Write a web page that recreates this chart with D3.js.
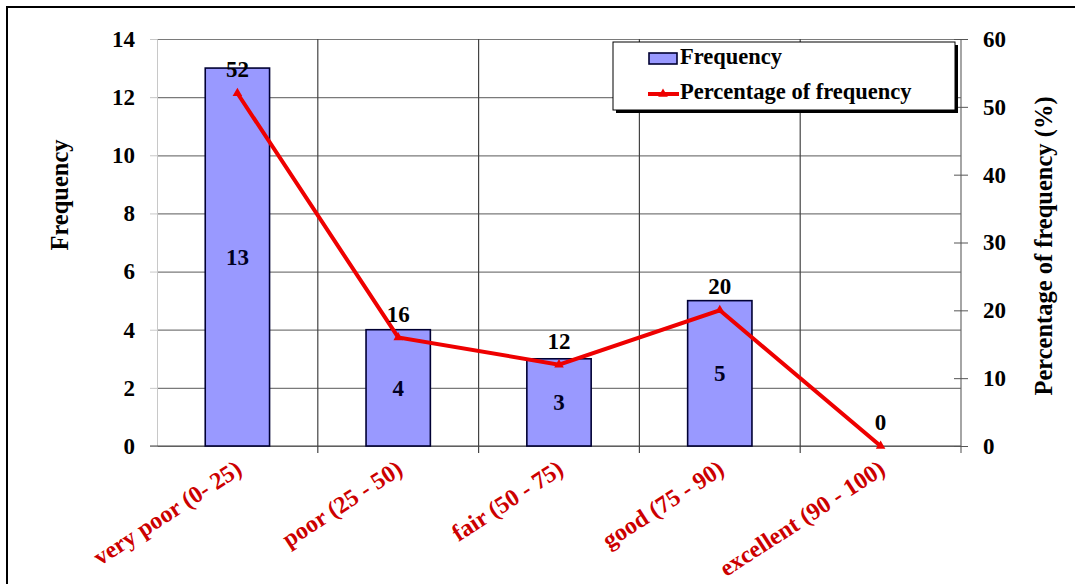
<!DOCTYPE html>
<html>
<head>
<meta charset="utf-8">
<script src="https://cdn.jsdelivr.net/npm/d3@7"></script>
<style>
  html, body { margin: 0; padding: 0; background: #fff; }
  svg { display: block; font-family: "Liberation Serif", "Times New Roman", serif; font-weight: bold; }
</style>
</head>
<body>
<svg id="chart" width="1075" height="584"></svg>
<script>
// Score classes and their counts
const categories = ["very poor (0- 25)", "poor (25 - 50)", "fair (50 - 75)", "good (75 - 90)", "excellent (90 - 100)"];
const frequency = [13, 4, 3, 5, 0];
const percentage = [52, 16, 12, 20, 0];
const freqTicks = [0, 2, 4, 6, 8, 10, 12, 14];
const pctTicks = [0, 10, 20, 30, 40, 50, 60];

const svg = d3.select("#chart");
const W = 1075, H = 584;
const plotL = 157, plotR = 961, plotT = 39, plotB = 446;
const FONT = "Liberation Serif";

// Outer frame (runs off the right and bottom edges)
svg.append("path")
  .attr("d", `M7,${H + 5} L7,7 L${W + 5},7`)
  .attr("fill", "none").attr("stroke", "#000").attr("stroke-width", 2);

const x = d3.scaleBand().domain(categories).range([plotL, plotR]).padding(0);
const yL = d3.scaleLinear().domain([0, 14]).range([plotB, plotT]);
const yR = d3.scaleLinear().domain([0, 60]).range([plotB, plotT]);

// Horizontal gridlines
svg.append("g")
  .attr("transform", `translate(${plotL},0)`)
  .call(d3.axisLeft(yL).tickValues(freqTicks).tickSize(-(plotR - plotL)).tickFormat(""))
  .call(g => g.select(".domain").remove())
  .call(g => g.selectAll("line").attr("stroke", "#7a7a7a").attr("stroke-width", 1.2));

// Vertical gridlines at category boundaries, with ticks below the baseline
const bounds = categories.slice(1).map(c => x(c));
svg.append("g").selectAll("line").data(bounds).join("line")
  .attr("x1", d => d).attr("x2", d => d)
  .attr("y1", plotT).attr("y2", plotB + 7)
  .attr("stroke", "#444").attr("stroke-width", 1.2);

// Left axis
svg.append("g")
  .attr("transform", `translate(${plotL},0)`)
  .call(d3.axisLeft(yL).tickValues(freqTicks).tickSize(7).tickPadding(15))
  .call(g => g.select(".domain").attr("stroke", "#c8c8c8"))
  .call(g => g.selectAll(".tick line").attr("stroke", "#c8c8c8"))
  .call(g => g.selectAll("text").attr("font-size", 23).attr("font-family", FONT).attr("font-weight", "bold").attr("fill", "#000"));

// Baseline
svg.append("line")
  .attr("x1", plotL - 7).attr("x2", plotR)
  .attr("y1", plotB).attr("y2", plotB)
  .attr("stroke", "#444").attr("stroke-width", 1.2);

// Right axis with crossing ticks
svg.append("g")
  .attr("transform", `translate(${plotR},0)`)
  .call(d3.axisRight(yR).tickValues(pctTicks).tickSize(7).tickPadding(15))
  .call(g => g.select(".domain").attr("stroke", "#6a6a6a").attr("stroke-width", 1.2).attr("d", `M0,${plotT}V${plotB + 7}`))
  .call(g => g.selectAll(".tick line").attr("x1", -7).attr("stroke", "#555"))
  .call(g => g.selectAll("text").attr("font-size", 23).attr("font-family", FONT).attr("font-weight", "bold").attr("fill", "#000"));

// Category labels
svg.append("g")
  .attr("transform", `translate(0,${plotB})`)
  .call(d3.axisBottom(x).tickSize(0))
  .call(g => g.select(".domain").remove())
  .call(g => g.selectAll("text")
    .attr("x", 0).attr("y", 0).attr("dy", 0)
    .attr("text-anchor", "end")
    .attr("transform", "translate(6,27) rotate(-33)")
    .attr("font-size", 24).attr("font-family", FONT).attr("font-weight", "bold")
    .attr("fill", "#cc0000"));

// Axis titles
svg.append("text")
  .attr("transform", "translate(68,195) rotate(-90)")
  .attr("text-anchor", "middle").attr("font-size", 24.5).text("Frequency");
svg.append("text")
  .attr("transform", "translate(1052,246) rotate(-90)")
  .attr("text-anchor", "middle").attr("font-size", 24.5).text("Percentage of frequency (%)");

// Bars
const cx = c => x(c) + x.bandwidth() / 2;
const bw = x.bandwidth() * 0.4;
const rows = categories.map((c, i) => ({ c, f: frequency[i], p: percentage[i] }));

svg.append("g").selectAll("rect").data(rows.filter(d => d.f > 0)).join("rect")
  .attr("x", d => cx(d.c) - bw / 2)
  .attr("y", d => yL(d.f))
  .attr("width", bw)
  .attr("height", d => yL(0) - yL(d.f))
  .attr("fill", "#9999ff").attr("stroke", "#000033").attr("stroke-width", 1.6);

// Count labels inside bars
svg.append("g").selectAll("text").data(rows.filter(d => d.f > 0)).join("text")
  .attr("x", d => cx(d.c))
  .attr("y", d => yL(d.f / 2))
  .attr("dy", "0.35em")
  .attr("text-anchor", "middle").attr("font-size", 23).attr("fill", "#000022")
  .text(d => d.f);

// Percentage line
const line = d3.line().x(d => cx(d.c)).y(d => yR(d.p));
svg.append("path").datum(rows)
  .attr("d", line)
  .attr("fill", "none").attr("stroke", "#ee0000").attr("stroke-width", 4).attr("stroke-linejoin", "miter");

const tri = d3.symbol().type(d3.symbolTriangle).size(40);
svg.append("g").selectAll("path").data(rows).join("path")
  .attr("transform", d => `translate(${cx(d.c)},${yR(d.p)})`)
  .attr("d", tri).attr("fill", "#ee0000");

// Percentage labels above points
svg.append("g").selectAll("text").data(rows).join("text")
  .attr("x", d => cx(d.c))
  .attr("y", d => yR(d.p) - 24)
  .attr("dy", "0.35em")
  .attr("text-anchor", "middle").attr("font-size", 23).attr("fill", "#000")
  .text(d => d.p);

// Legend
const lg = svg.append("g");
lg.append("rect").attr("x", 616).attr("y", 45).attr("width", 342).attr("height", 68).attr("fill", "#000");
lg.append("rect").attr("x", 613).attr("y", 42).attr("width", 342).attr("height", 68)
  .attr("fill", "#fff").attr("stroke", "#000").attr("stroke-width", 1);
lg.append("rect").attr("x", 649).attr("y", 53).attr("width", 28).attr("height", 11)
  .attr("fill", "#9999ff").attr("stroke", "#000033").attr("stroke-width", 1.6);
lg.append("text").attr("x", 680).attr("y", 64).attr("font-size", 22.5).text("Frequency");
lg.append("line").attr("x1", 648).attr("x2", 679).attr("y1", 94).attr("y2", 94)
  .attr("stroke", "#ee0000").attr("stroke-width", 4);
lg.append("path").attr("transform", "translate(663,94)").attr("d", tri).attr("fill", "#ee0000");
lg.append("text").attr("x", 680).attr("y", 99).attr("font-size", 22.5).text("Percentage of frequency");
</script>
</body>
</html>
